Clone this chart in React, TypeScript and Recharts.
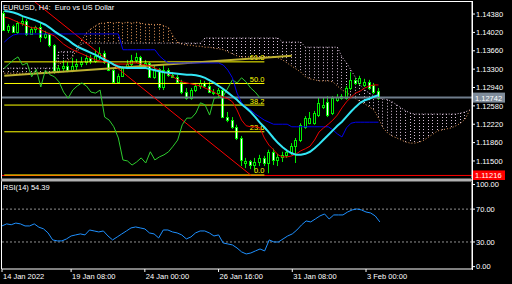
import React from "react";
import { ComposedChart, Bar, Line, XAxis, YAxis, ReferenceLine } from "recharts";

const FONT = "'Liberation Sans', Arial, sans-serif";

// EURUSD H4 candles (slot 0 = 14 Jan 16:00 ... slot 82 = 3 Feb 12:00)
const opens = [
  1.144, 1.1407, 1.1415, 1.1403, 1.142, 1.1424, 1.1399, 1.1409, 1.1413, 1.1393,
  1.1399, 1.1377, 1.1326, 1.1332, 1.1336, 1.1328, 1.1336, 1.134, 1.1344, 1.1352,
  1.1346, 1.1356, 1.1362, 1.1344, 1.1328, 1.1305, 1.1317, 1.1332, 1.134, 1.1348,
  1.1354, 1.1338, 1.1342, 1.1315, 1.133, 1.1295, 1.1328, 1.1319, 1.1315, 1.1305,
  1.1285, 1.1273, 1.1289, 1.1297, 1.1303, 1.1297, 1.1285, 1.1283, 1.1289, 1.1236,
  1.123, 1.1217, 1.1195, 1.1146, 1.115, 1.1142, 1.1148, 1.1156, 1.1146, 1.1168,
  1.1152, 1.1158, 1.1162, 1.1168, 1.1179, 1.1191, 1.1217, 1.1224, 1.1224, 1.124,
  1.1256, 1.1266, 1.1244, 1.127, 1.1273, 1.1273, 1.1293, 1.1309, 1.1303, 1.1299,
  1.1305, 1.1299, 1.1287,
];
const highs = [
  1.1444, 1.1418, 1.1417, 1.1424, 1.1432, 1.1428, 1.1413, 1.1415, 1.142, 1.1405,
  1.1401, 1.1379, 1.1338, 1.1348, 1.1344, 1.1352, 1.135, 1.1354, 1.1358, 1.1358,
  1.1368, 1.1373, 1.1366, 1.1348, 1.133, 1.1321, 1.1336, 1.1348, 1.1358, 1.1362,
  1.1356, 1.1348, 1.1344, 1.1336, 1.1332, 1.1338, 1.1332, 1.1324, 1.1319, 1.1309,
  1.1293, 1.1293, 1.1303, 1.1309, 1.1307, 1.1305, 1.1291, 1.1293, 1.1291, 1.1246,
  1.1236, 1.1221, 1.1199, 1.1156, 1.1152, 1.1156, 1.1162, 1.116, 1.1172, 1.1174,
  1.1164, 1.1168, 1.1172, 1.1185, 1.1195, 1.1224, 1.1238, 1.1246, 1.1248, 1.1275,
  1.1275, 1.1277, 1.1277, 1.1281, 1.1281, 1.1297, 1.1324, 1.1313, 1.1317, 1.1311,
  1.1309, 1.1303, 1.1293,
];
const lows = [
  1.1405, 1.1401, 1.1401, 1.1399, 1.1415, 1.1395, 1.1397, 1.1401, 1.1383, 1.1389,
  1.1373, 1.1321, 1.1322, 1.1324, 1.1324, 1.1324, 1.1328, 1.1334, 1.1338, 1.134,
  1.1342, 1.1348, 1.134, 1.1326, 1.1301, 1.1301, 1.1315, 1.133, 1.1336, 1.1342,
  1.1336, 1.1332, 1.1313, 1.1311, 1.1289, 1.1289, 1.1315, 1.1313, 1.1301, 1.1281,
  1.127, 1.127, 1.1285, 1.1291, 1.1293, 1.1283, 1.1279, 1.1273, 1.1234, 1.1226,
  1.1213, 1.1191, 1.114, 1.1136, 1.1134, 1.1132, 1.114, 1.114, 1.1126, 1.1142,
  1.114, 1.1148, 1.1156, 1.1162, 1.1146, 1.1187, 1.1213, 1.1222, 1.1221, 1.1236,
  1.1252, 1.1236, 1.124, 1.1266, 1.127, 1.127, 1.1289, 1.1299, 1.1299, 1.1295,
  1.1289, 1.1281, 1.127,
];
const closes = [
  1.1407, 1.1415, 1.1403, 1.142, 1.1424, 1.1399, 1.1409, 1.1413, 1.1393, 1.1399,
  1.1377, 1.1326, 1.1332, 1.1336, 1.1328, 1.1336, 1.134, 1.1344, 1.1352, 1.1346,
  1.1356, 1.1362, 1.1344, 1.1328, 1.1305, 1.1317, 1.1332, 1.134, 1.1348, 1.1354,
  1.1338, 1.1342, 1.1315, 1.133, 1.1295, 1.1328, 1.1319, 1.1315, 1.1305, 1.1285,
  1.1273, 1.1289, 1.1297, 1.1303, 1.1297, 1.1285, 1.1283, 1.1289, 1.1236, 1.123,
  1.1217, 1.1195, 1.1152, 1.115, 1.1142, 1.1148, 1.1156, 1.1146, 1.1168, 1.1152,
  1.1158, 1.1162, 1.1168, 1.1179, 1.1191, 1.1221, 1.1234, 1.1234, 1.1244, 1.1264,
  1.126, 1.124, 1.1273, 1.1275, 1.1277, 1.1293, 1.1309, 1.1303, 1.1313, 1.1305,
  1.1293, 1.1285, 1.12742,
];

// moving average (cyan)
const cyanMa = [
  1.1444, 1.1443, 1.1441, 1.1438, 1.1434, 1.1431, 1.1428, 1.1425, 1.1421, 1.1417,
  1.1411, 1.1404, 1.1398, 1.1393, 1.1387, 1.138, 1.1374, 1.137, 1.1366, 1.1362,
  1.1358, 1.1353, 1.1348, 1.1344, 1.1339, 1.1335, 1.1333, 1.1332, 1.1332, 1.1332,
  1.1332, 1.1332, 1.133, 1.1328, 1.1326, 1.1324, 1.1323, 1.1322, 1.1321, 1.132,
  1.1319, 1.1319, 1.1318, 1.1316, 1.1313, 1.1308, 1.1303, 1.1297, 1.1291, 1.1284,
  1.1277, 1.127, 1.1261, 1.1254, 1.1246, 1.1236, 1.1225, 1.1216, 1.1206, 1.1195,
  1.1185, 1.1177, 1.117, 1.1165, 1.1162, 1.1162, 1.1164, 1.1168, 1.1175, 1.1183,
  1.1192, 1.1201, 1.121, 1.1219, 1.1227, 1.1237, 1.1247, 1.1256, 1.1264, 1.1269,
  1.1272, 1.1276, 1.1279,
];

// Ichimoku
const tenkan = [
  1.1432, 1.143, 1.1426, 1.1422, 1.1418, 1.1415, 1.1411, 1.1411, 1.1407, 1.1403,
  1.1399, 1.1395, 1.1387, 1.1379, 1.1373, 1.1368, 1.1364, 1.136, 1.1356, 1.1352,
  1.1348, 1.1346, 1.1344, 1.1342, 1.134, 1.134, 1.134, 1.134, 1.1342, 1.1342,
  1.134, 1.1338, 1.1336, 1.1332, 1.1328, 1.1324, 1.1321, 1.1315, 1.1309, 1.1305,
  1.1303, 1.1301, 1.1299, 1.1297, 1.1293, 1.1289, 1.1285, 1.1279, 1.1275, 1.1272,
  1.1266, 1.125, 1.123, 1.1219, 1.1217, 1.1217, 1.1215, 1.1195, 1.1181, 1.1172,
  1.1162, 1.1158, 1.1158, 1.116, 1.1164, 1.117, 1.1174, 1.1179, 1.1191, 1.1207,
  1.1215, 1.1222, 1.123, 1.124, 1.1254, 1.1266, 1.1275, 1.1283, 1.1287, 1.1293,
  1.1297, 1.1299, 1.1299,
];
const kijun = [
  1.1383, 1.1391, 1.1397, 1.1399, 1.1399, 1.1399, 1.1399, 1.1399, 1.1399, 1.1399,
  1.1399, 1.1399, 1.1399, 1.1399, 1.1399, 1.1399, 1.1399, 1.1399, 1.1399, 1.1399,
  1.1399, 1.1399, 1.1399, 1.1399, 1.1399, 1.1399, 1.1368, 1.1368, 1.1368, 1.1368,
  1.1368, 1.1368, 1.1368, 1.1368, 1.1356, 1.1348, 1.1342, 1.1342, 1.1342, 1.1342,
  1.1342, 1.1342, 1.1342, 1.1342, 1.1342, 1.1342, 1.1342, 1.1342, 1.1338, 1.1328,
  1.1313, 1.1283, 1.1264, 1.1256, 1.125, 1.1242, 1.1236, 1.123, 1.1226, 1.1222,
  1.1222, 1.1222, 1.1222, 1.1217, 1.1217, 1.1217, 1.1217, 1.1217, 1.1217, 1.1217,
  1.1217, 1.1217, 1.1211, 1.1203, 1.1197, 1.1215, 1.1224, 1.1226, 1.1226, 1.1226,
  1.1226, 1.1226, 1.1226,
];
const spanA = [
  1.1322, 1.1322, 1.1322, 1.1322, 1.1322, 1.1322, 1.1322, 1.1322, 1.1322, 1.1322,
  1.1322, 1.1326, 1.134, 1.1344, 1.1348, 1.1354, 1.1371, 1.1387, 1.1401, 1.1409,
  1.1415, 1.142, 1.142, 1.1422, 1.142, 1.1422, 1.142, 1.1422, 1.142, 1.1422,
  1.142, 1.1418, 1.1418, 1.1417, 1.1418, 1.1415, 1.1411, 1.1395, 1.1383, 1.1379,
  1.1377, 1.1377, 1.1375, 1.1375, 1.1373, 1.1373, 1.1371, 1.137, 1.1368, 1.1364,
  1.136, 1.1356, 1.1354, 1.1354, 1.1354, 1.1354, 1.1354, 1.1354, 1.1354, 1.1354,
  1.1352, 1.1348, 1.1342, 1.1336, 1.133, 1.1324, 1.1315, 1.1311, 1.1309, 1.1307,
  1.1307, 1.1307, 1.1305, 1.1297, 1.1289, 1.1285, 1.1277, 1.1272, 1.1266, 1.1262,
  1.1256, 1.125, 1.1234, 1.1215, 1.1205, 1.1199, 1.1195, 1.1191, 1.1187, 1.1185,
  1.1185, 1.1187, 1.1191, 1.1197, 1.1203, 1.1209, 1.1211, 1.1213, 1.1215, 1.1219,
  1.1224, 1.1232, 1.125,
];
const spanB = [
  1.1332, 1.1332, 1.1332, 1.1332, 1.1332, 1.1332, 1.1332, 1.1332, 1.1332, 1.1332,
  1.1332, 1.1332, 1.1364, 1.1364, 1.1364, 1.1364, 1.1364, 1.1381, 1.1381, 1.1381,
  1.1381, 1.1381, 1.1381, 1.1381, 1.1381, 1.1381, 1.1381, 1.1381, 1.1381, 1.1381,
  1.1381, 1.1381, 1.1381, 1.1381, 1.1381, 1.1381, 1.1381, 1.1381, 1.1381, 1.1381,
  1.1381, 1.1381, 1.1381, 1.1381, 1.1391, 1.1391, 1.1391, 1.1391, 1.1391, 1.1391,
  1.1391, 1.1391, 1.1391, 1.1391, 1.1391, 1.1391, 1.1391, 1.1391, 1.1391, 1.1391,
  1.1391, 1.1383, 1.1383, 1.1383, 1.1383, 1.1383, 1.1373, 1.1373, 1.1373, 1.1373,
  1.1373, 1.1373, 1.1373, 1.1373, 1.1354, 1.1342, 1.1328, 1.1313, 1.1299, 1.1289,
  1.1283, 1.1277, 1.1273, 1.1272, 1.127, 1.1266, 1.126, 1.1254, 1.1248, 1.1244,
  1.1242, 1.1242, 1.1242, 1.1242, 1.1242, 1.1242, 1.1242, 1.1242, 1.1242, 1.1242,
  1.1244, 1.1246, 1.125,
];

const rsi = [
  49.5, 52, 51, 53, 52, 49.5, 49.5, 52, 48, 46,
  41, 32.5, 31.3, 31.3, 33.7, 37.3, 38.6, 39.8, 38.6, 44.6,
  43.4, 42.2, 43.4, 37.3, 32.5, 36.1, 39.8, 43.4, 47.1, 48.3,
  47.1, 45.9, 41, 39.8, 34.9, 44.6, 44.6, 42.2, 41, 38.6,
  33.7, 36.1, 41, 43.4, 43.4, 41, 37.3, 38.6, 28.8, 27.6,
  26.4, 22.7, 17.9, 15.4, 16.6, 19.1, 21.5, 19.1, 32.5, 30,
  30, 33.7, 37.3, 39.8, 44.6, 50.7, 55.6, 54.4, 58, 61.7,
  64.1, 58, 62.9, 62.9, 62.9, 66.5, 69, 70.2, 69, 66.5,
  65.3, 61.7, 54.39,
];

const fibLevels = [0, 23.6, 38.2, 50, 61.8];
const fibLabels = ["0.0", "23.6", "38.2", "50.0", "61.8"];
const fibHigh = 1.14813;
const fibLow = 1.11225;
const bidPrice = 1.12742;
const hLinePrice = 1.11216;
const priceTicks = [1.1438, 1.1402, 1.1366, 1.133, 1.1294, 1.1258, 1.1222, 1.1186, 1.115];
const rsiTicks = [0, 30, 70, 100];
const timeSlots = [0, 15, 31, 47, 63, 79];
const timeLabels = ["14 Jan 2022", "19 Jan 08:00", "24 Jan 00:00", "26 Jan 16:00", "31 Jan 08:00", "3 Feb 00:00"];

const SLOTS = 103;
const SHIFT = 26;

const rows = Array.from({ length: SLOTS }, (_, i) => {
  const has = i < closes.length;
  const a = spanA[i];
  const b = spanB[i];
  return {
    i,
    open: has ? opens[i] : null,
    high: has ? highs[i] : null,
    low: has ? lows[i] : null,
    close: has ? closes[i] : null,
    candle: has ? [lows[i], highs[i]] : null,
    a,
    b,
    cloud: [Math.min(a, b), Math.max(a, b)],
    cyan: cyanMa[i] ?? null,
    tenkan: tenkan[i] ?? null,
    kijun: kijun[i] ?? null,
    chikou: closes[i + SHIFT] ?? null,
    rsi: rsi[i] ?? null,
  };
});

const LIME = "#00ee00";
const SANDY = "#e89a5c";
const THISTLE = "#d8bfd8";

const Candle = (props: any) => {
  const { x, y, width, height, payload } = props;
  if (payload.open == null || !isFinite(height)) return <g />;
  const top = Math.min(y, y + height);
  const span = Math.abs(height);
  const hi = payload.high;
  const lo = payload.low;
  const py = (p: number) => top + ((hi - p) / (hi - lo || 1)) * span;
  const c = Math.round(x + width / 2);
  const bTop = Math.round(py(Math.max(payload.open, payload.close)));
  const bBot = Math.round(py(Math.min(payload.open, payload.close)));
  const bear = payload.close < payload.open;
  return (
    <g>
      <line x1={c - 0.5} x2={c - 0.5} y1={top} y2={top + span} stroke={LIME} />
      <rect
        x={c - 1.5}
        y={bTop + 0.5}
        width={2}
        height={Math.max(1, bBot - bTop)}
        fill={bear ? "#ffffff" : "#000000"}
        stroke={LIME}
      />
    </g>
  );
};

const Hatch = (props: any) => {
  const { x, y, width, height, payload } = props;
  if (!isFinite(height)) return <g />;
  const c = Math.round(x + width / 2) - 0.5;
  const col = payload.a >= payload.b ? SANDY : THISTLE;
  return (
    <line x1={c} x2={c} y1={y} y2={y + height} stroke={col} strokeDasharray="1 2" />
  );
};

const FibTag = (props: any) => {
  const { viewBox, text } = props;
  if (!viewBox) return null;
  return (
    <text
      x={viewBox.x + viewBox.width}
      y={viewBox.y - 1.5}
      textAnchor="end"
      fill="#ffff00"
      fontSize={7.5}
      fontFamily={FONT}
    >
      {text}
    </text>
  );
};

const PriceBox = (props: any) => {
  const { viewBox, text, bg, fg } = props;
  if (!viewBox) return null;
  const x = viewBox.x + viewBox.width + 1;
  const y = viewBox.y;
  return (
    <g>
      <rect x={x} y={y - 5} width={32} height={10} fill={bg} />
      <text x={x + 2} y={y + 3} fill={fg} fontSize={7.5} fontFamily={FONT}>
        {text}
      </text>
    </g>
  );
};

const TimeTick = (props: any) => {
  const { x, y, payload } = props;
  const k = timeSlots.indexOf(payload.value);
  if (k < 0) return null;
  const tx = payload.value === 0 ? 3 : x + 1;
  return (
    <text x={tx} y={y + 6} fill="#ffffff" fontSize={7.5} fontFamily={FONT}>
      {timeLabels[k]}
    </text>
  );
};

const axisTick = { fill: "#ffffff", fontSize: 7.5, fontFamily: FONT };

const App: React.FC = () => {
  return (
    <div
      style={{
        position: "fixed",
        left: 0,
        top: 0,
        width: 512,
        height: 284,
        background: "#000",
        overflow: "hidden",
      }}
    >
      <div style={{ position: "absolute", left: 0, top: 0 }}>
        <ComposedChart
          width={512}
          height={180}
          data={rows}
          margin={{ top: 2, right: 0, bottom: 2, left: 2 }}
        >
          <XAxis xAxisId="c" dataKey="i" type="category" hide />
          <XAxis xAxisId="h" dataKey="i" type="category" hide />
          <YAxis
            orientation="right"
            width={40}
            domain={[1.11166, 1.14616]}
            allowDataOverflow
            ticks={priceTicks}
            interval={0}
            tickFormatter={(v: number) => v.toFixed(5)}
            tick={axisTick}
            tickSize={3}
            tickMargin={1}
            axisLine={{ stroke: "#ffffff" }}
            tickLine={{ stroke: "#ffffff" }}
          />
          <Bar xAxisId="h" dataKey="cloud" shape={(p: any) => <Hatch {...p} />} isAnimationActive={false} />
          <Line xAxisId="c" dataKey="a" stroke={SANDY} strokeDasharray="1 2" dot={false} isAnimationActive={false} />
          <Line xAxisId="c" dataKey="b" stroke={THISTLE} strokeDasharray="1 2" dot={false} isAnimationActive={false} />

          <ReferenceLine xAxisId="c" y={hLinePrice} stroke="#ff0000" label={<PriceBox text="1.11216" bg="#ff0000" fg="#ffffff" />} />
          <ReferenceLine xAxisId="c" y={bidPrice} stroke="#6f7d8c" strokeWidth={2} label={<PriceBox text="1.12742" bg="#7f8c9a" fg="#ffffff" />} />
          {fibLevels.map((lv, k) => {
            const p = fibLow + ((fibHigh - fibLow) * lv) / 100;
            return (
              <ReferenceLine
                key={lv}
                xAxisId="c"
                segment={[
                  { x: 0, y: p },
                  { x: 57, y: p },
                ]}
                stroke="#ffff00"
                label={<FibTag text={fibLabels[k]} />}
              />
            );
          })}
          <ReferenceLine
            xAxisId="c"
            segment={[
              { x: 0, y: 1.1317 },
              { x: 63, y: 1.1356 },
            ]}
            stroke="#bdb030"
            strokeWidth={2}
          />
          <ReferenceLine
            xAxisId="c"
            segment={[
              { x: 4, y: fibHigh },
              { x: 54, y: fibLow },
            ]}
            stroke="#ff0000"
            ifOverflow="hidden"
          />

          <Line xAxisId="c" dataKey="chikou" stroke="#2ecc2e" dot={false} isAnimationActive={false} />
          <Bar xAxisId="c" dataKey="candle" shape={(p: any) => <Candle {...p} />} isAnimationActive={false} />
          <Line xAxisId="c" dataKey="kijun" stroke="#0000ee" dot={false} isAnimationActive={false} />
          <Line xAxisId="c" dataKey="tenkan" stroke="#ee0000" dot={false} isAnimationActive={false} />
          <Line xAxisId="c" dataKey="cyan" stroke="#33e6f5" strokeWidth={2} dot={false} isAnimationActive={false} />
        </ComposedChart>
      </div>

      <div style={{ position: "absolute", left: 0, top: 180 }}>
        <ComposedChart
          width={512}
          height={104}
          data={rows}
          margin={{ top: 2, right: 0, bottom: 0, left: 2 }}
        >
          <XAxis
            dataKey="i"
            type="category"
            ticks={timeSlots}
            interval={0}
            height={15}
            tickSize={3}
            tickMargin={1}
            axisLine={{ stroke: "#ffffff" }}
            tickLine={{ stroke: "#ffffff" }}
            tick={<TimeTick />}
          />
          <YAxis
            orientation="right"
            width={40}
            domain={[-2.9, 103]}
            allowDataOverflow
            ticks={rsiTicks}
            interval={0}
            tickFormatter={(v: number) => v.toFixed(2)}
            tick={axisTick}
            tickSize={3}
            tickMargin={1}
            axisLine={{ stroke: "#ffffff" }}
            tickLine={{ stroke: "#ffffff" }}
          />
          <ReferenceLine y={70} stroke="#909090" strokeDasharray="2 2" />
          <ReferenceLine y={30} stroke="#909090" strokeDasharray="2 2" />
          <Line dataKey="rsi" stroke="#1e90ff" dot={false} isAnimationActive={false} />
        </ComposedChart>
      </div>

      <svg
        width={512}
        height={284}
        style={{ position: "absolute", left: 0, top: 0, pointerEvents: "none" }}
      >
        <line x1={1} x2={473} y1={1.5} y2={1.5} stroke="#ffffff" />
        <line x1={1.5} x2={1.5} y1={1} y2={269} stroke="#ffffff" />
        <rect x={1} y={178.5} width={472} height={3} fill="#b0b0b0" />
        <line x1={472.5} x2={472.5} y1={1} y2={270} stroke="#ffffff" />
        <text x={3} y={9.5} fill="#ffffff" fontSize={7.5} fontFamily={FONT} style={{ whiteSpace: "pre" }}>
          {"EURUSD, H4:  Euro vs US Dollar"}
        </text>
        <text x={3} y={189.5} fill="#ffffff" fontSize={7.5} fontFamily={FONT}>
          RSI(14) 54.39
        </text>
      </svg>
    </div>
  );
};

export default App;
